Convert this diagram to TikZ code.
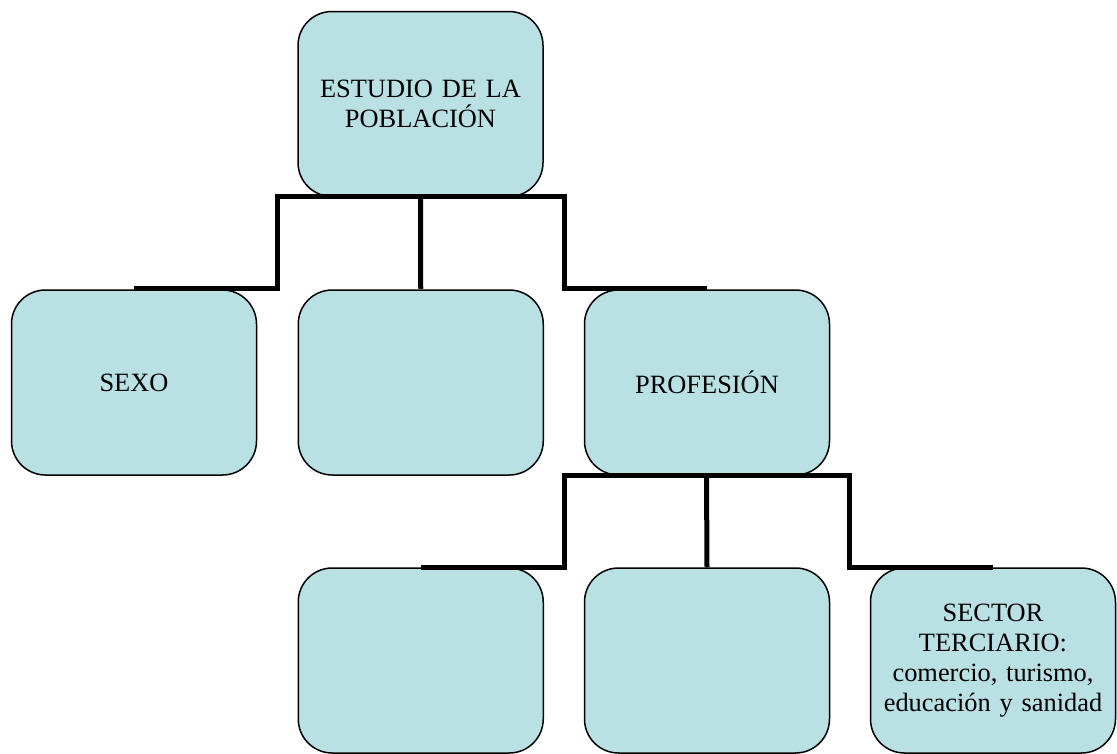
\documentclass[tikz,border=0pt]{standalone}
\usepackage{fontspec}
\setmainfont{Liberation Serif}
\definecolor{boxfill}{RGB}{185,224,227}
\begin{document}
\begin{tikzpicture}[x=1pt,y=-1pt,
  box/.style={draw=black, line width=1.5pt, fill=boxfill, rounded corners=34pt,
    minimum width=245pt, minimum height=185pt, align=center, inner sep=4pt,
    text width=237pt, font=\fontsize{26.4}{30}\selectfont},
  conn/.style={draw=black, line width=5pt, line join=miter}]
\useasboundingbox (0,0) rectangle (1117,753);
% boxes
\node[box] (root) at (420.5,104) {ESTUDIO DE LA\\POBLACIÓN};
\node[box] (sexo) at (134,382.5) {SEXO};
\node[box] (mid)  at (420.75,382.5) {};
\node[box] (prof) at (707,382.5) {PROFESIÓN};
\node[box] (c1) at (420.75,660.5) {};
\node[box] (c2) at (707,660.5) {};
\node[box] (c3) at (993,660.5) {SECTOR\\TERCIARIO:\\comercio, turismo,\\educación y sanidad};
% junctions
\coordinate (gL) at (277.5,196.5);
\coordinate (gR) at (564.5,196.5);
\coordinate (hL) at (564.5,475.5);
\coordinate (hR) at (849.5,475.5);
% connectors
\draw[conn] ([yshift=0.5pt]sexo.north) -| (gL) -- (gR) |- ([yshift=0.5pt]prof.north);
\draw[conn] (420.5,196.5) -- ([yshift=0.5pt]mid.north);
\draw[conn] ([yshift=0pt]c1.north) -| (hL) -- (hR) |- ([yshift=0pt]c3.north);
\draw[conn] (706.5,475.5) -- (c2.north);
\end{tikzpicture}
\end{document}
